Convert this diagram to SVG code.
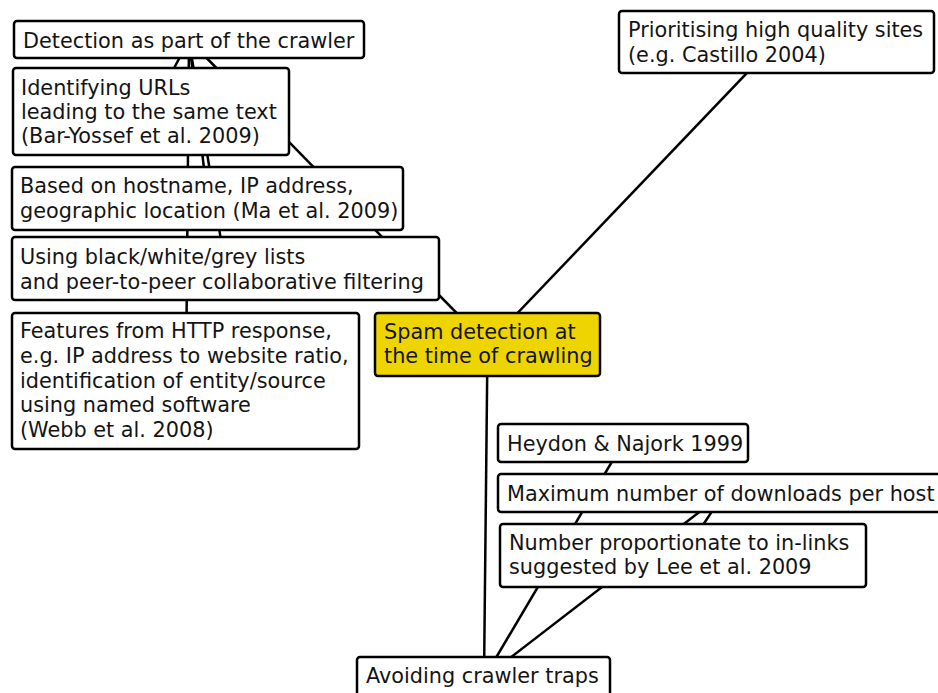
<svg xmlns="http://www.w3.org/2000/svg" width="938" height="693" viewBox="0 0 938 693">
  <style>
    .box { fill: #ffffff; stroke: #000000; stroke-width: 2.5; }
    .root { fill: #eed400; }
    .edge { stroke: #000000; stroke-width: 2.5; fill: none; }
    text { font-family: "DejaVu Sans", "Open Sans", sans-serif; font-size: 20.8px; fill: #141414; }
  </style>
  <rect width="938" height="693" fill="#ffffff"/>

  <!-- connectors (drawn beneath the boxes, centre to centre) -->
  <g id="connectors" class="edge">
    <line x1="487.5" y1="344.5" x2="189" y2="40"/>
    <line x1="487.5" y1="344.5" x2="776.5" y2="42"/>
    <line x1="487.5" y1="344.5" x2="484" y2="678"/>
    <line x1="189" y1="40" x2="151" y2="111.5"/>
    <line x1="189" y1="40" x2="207.5" y2="198.5"/>
    <line x1="189" y1="40" x2="225.5" y2="268.5"/>
    <line x1="189" y1="40" x2="186" y2="381"/>
    <line x1="484" y1="678" x2="623" y2="443"/>
    <line x1="484" y1="678" x2="724" y2="493"/>
    <line x1="724" y1="493" x2="683" y2="555.5"/>
  </g>

  <g id="detection-crawler">
    <rect class="box" x="14" y="21" width="350" height="37" rx="3"/>
    <text x="23" y="48">Detection as part of the crawler</text>
  </g>

  <g id="identifying-urls">
    <rect class="box" x="13" y="68" width="276" height="87" rx="3"/>
    <text x="21" y="95">Identifying URLs</text>
    <text x="21" y="119">leading to the same text</text>
    <text x="21" y="143">(Bar-Yossef et al. 2009)</text>
  </g>

  <g id="hostname">
    <rect class="box" x="12" y="167" width="391" height="63" rx="3"/>
    <text x="20" y="193">Based on hostname, IP address,</text>
    <text x="20" y="218">geographic location (Ma et al. 2009)</text>
  </g>

  <g id="lists">
    <rect class="box" x="12" y="237" width="427" height="63" rx="3"/>
    <text x="20" y="264">Using black/white/grey lists</text>
    <text x="20" y="289">and peer-to-peer collaborative filtering</text>
  </g>

  <g id="http-features">
    <rect class="box" x="12" y="313" width="347" height="136" rx="3"/>
    <text x="20" y="338">Features from HTTP response,</text>
    <text x="20" y="363">e.g. IP address to website ratio,</text>
    <text x="20" y="388">identification of entity/source</text>
    <text x="20" y="412">using named software</text>
    <text x="20" y="437">(Webb et al. 2008)</text>
  </g>

  <g id="spam-detection">
    <rect class="box root" x="375" y="313" width="225" height="63" rx="3"/>
    <text x="384" y="339">Spam detection at</text>
    <text x="384" y="363">the time of crawling</text>
  </g>

  <g id="high-quality">
    <rect class="box" x="619" y="11" width="315" height="62" rx="3"/>
    <text x="628" y="37">Prioritising high quality sites</text>
    <text x="628" y="62">(e.g. Castillo 2004)</text>
  </g>

  <g id="heydon">
    <rect class="box" x="498" y="424" width="250" height="38" rx="3"/>
    <text x="507" y="451">Heydon &amp; Najork 1999</text>
  </g>

  <g id="max-downloads">
    <rect class="box" x="498" y="474" width="452" height="38" rx="3"/>
    <text x="507" y="501">Maximum number of downloads per host</text>
  </g>

  <g id="in-links">
    <rect class="box" x="500" y="524" width="366" height="63" rx="3"/>
    <text x="509" y="550">Number proportionate to in-links</text>
    <text x="509" y="574">suggested by Lee et al. 2009</text>
  </g>

  <g id="crawler-traps">
    <rect class="box" x="357" y="657" width="253" height="45" rx="3"/>
    <text x="366" y="683">Avoiding crawler traps</text>
  </g>
</svg>
